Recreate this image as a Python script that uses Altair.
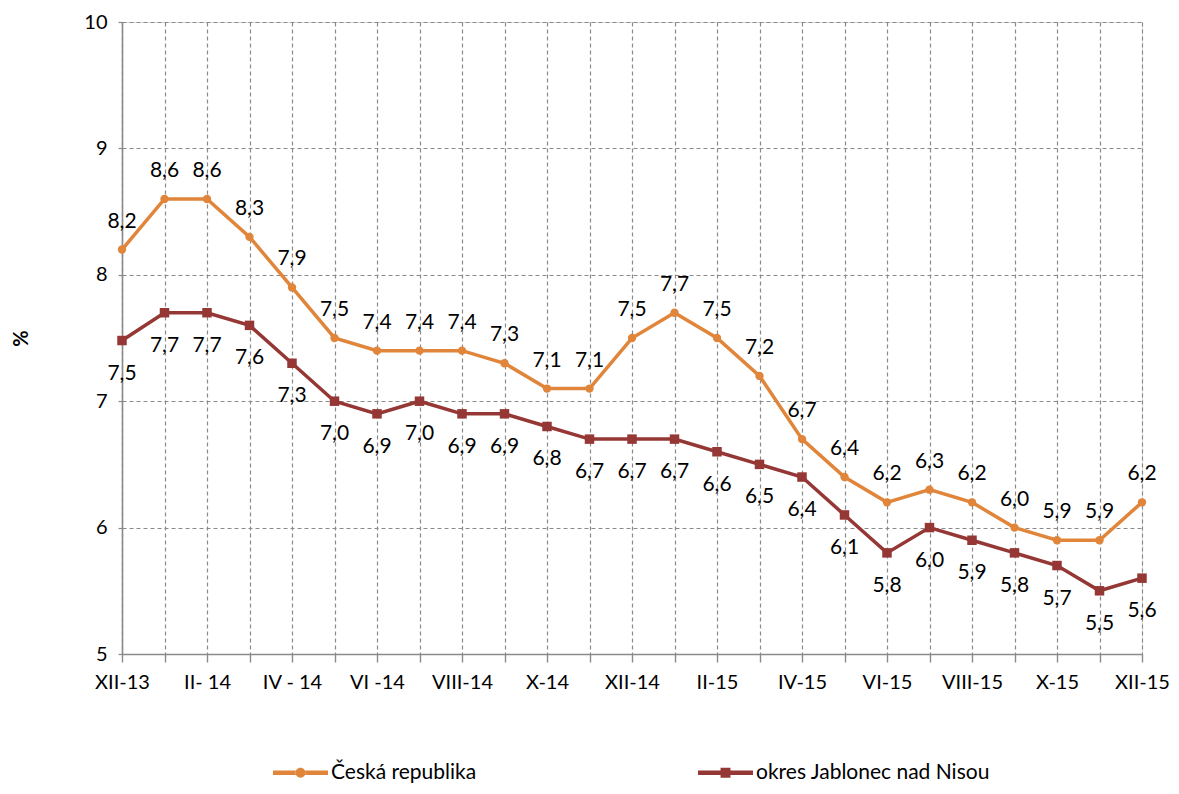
import altair as alt
import pandas as pd

months = ["XII-13", "I-14", "II- 14", "III-14", "IV - 14", "V-14", "VI -14", "VII-14",
          "VIII-14", "IX-14", "X-14", "XI-14", "XII-14", "I-15", "II-15", "III-15",
          "IV-15", "V-15", "VI-15", "VII-15", "VIII-15", "IX-15", "X-15", "XI-15", "XII-15"]
cz = [8.2, 8.6, 8.6, 8.3, 7.9, 7.5, 7.4, 7.4, 7.4, 7.3, 7.1, 7.1, 7.5, 7.7, 7.5, 7.2,
      6.7, 6.4, 6.2, 6.3, 6.2, 6.0, 5.9, 5.9, 6.2]
jab = [7.48, 7.7, 7.7, 7.6, 7.3, 7.0, 6.9, 7.0, 6.9, 6.9, 6.8, 6.7, 6.7, 6.7, 6.6, 6.5,
       6.4, 6.1, 5.8, 6.0, 5.9, 5.8, 5.7, 5.5, 5.6]
series_names = ["Česká republika", "okres Jablonec nad Nisou"]
colors = ["#E0853A", "#953735"]

rows = []
for s, vals in zip(series_names, [cz, jab]):
    for i, v in enumerate(vals):
        rows.append({"idx": i, "month": months[i], "series": s, "value": v,
                     "label": f"{v:.1f}".replace(".", ",")})
df = pd.DataFrame(rows)

shown = [m if i % 2 == 0 else "" for i, m in enumerate(months)]
label_expr = "[" + ",".join("'" + m + "'" for m in shown) + "][datum.value]"

FONT = "Lato"
GRID = "#8a8a8a"

x = alt.X("idx:Q", scale=alt.Scale(domain=[0, len(months) - 1], nice=False, zero=False),
          axis=alt.Axis(values=list(range(len(months))), labelExpr=label_expr, title=None,
                        grid=True, gridDash=[4, 3], gridColor=GRID, gridWidth=1.2,
                        domainColor=GRID, domainWidth=1.6, tickColor=GRID, tickWidth=1.4,
                        tickSize=8, labelFontSize=20, labelPadding=10, labelColor="black",
                        labelFont=FONT, labelFlush=False, labelOverlap=False))
y = alt.Y("value:Q", scale=alt.Scale(domain=[5, 10], nice=False, zero=False),
          axis=alt.Axis(values=[5, 6, 7, 8, 9, 10], title="%", titleFontWeight="bold",
                        titleFontSize=20, titleFont=FONT, titleColor="black", titlePadding=52,
                        grid=True, gridDash=[4, 3], gridColor=GRID, gridWidth=1.2,
                        domainColor=GRID, domainWidth=1.6, tickColor=GRID, tickWidth=1.2,
                        tickDash=[4, 3], tickSize=7, labelFontSize=20, labelPadding=8,
                        labelColor="black", labelFont=FONT, labelFlush=False))

base = alt.Chart(df)

line = base.mark_line(strokeWidth=3.5).encode(
    x=x, y=y,
    color=alt.Color("series:N", scale=alt.Scale(domain=series_names, range=colors), legend=None),
    detail="series:N",
)

pts = base.mark_point(filled=True, opacity=1).encode(
    x=x, y=y,
    color=alt.Color("series:N", scale=alt.Scale(domain=series_names, range=colors), legend=None),
    shape=alt.Shape("series:N", scale=alt.Scale(domain=series_names, range=["circle", "square"]),
                    legend=None),
    size=alt.Size("series:N", scale=alt.Scale(domain=series_names, range=[70, 90]), legend=None),
)

txt_cz = base.transform_filter(alt.datum.series == series_names[0]).mark_text(
    dy=-28, fontSize=21, font=FONT, color="black").encode(x=x, y=y, text="label:N")
txt_jab = base.transform_filter(alt.datum.series == series_names[1]).mark_text(
    dy=33, fontSize=21, font=FONT, color="black").encode(x=x, y=y, text="label:N")

circ = "M-0.18,0A0.18,0.18 0 1,0 0.18,0A0.18,0.18 0 1,0 -0.18,0Z"
sq = "M-0.18,-0.18H0.18V0.18H-0.18Z"
seg = "M-1,-0.085H-0.17V0.085H-1Z M0.17,-0.085H1V0.085H0.17Z "
legend_opts = dict(title=None, orient="none", legendX=151, legendY=723,
                   direction="horizontal", columns=2, columnPadding=221,
                   symbolSize=3025, symbolStrokeWidth=0, symbolOpacity=1,
                   labelFontSize=21, labelFont=FONT, labelColor="black",
                   labelOffset=3, labelLimit=400)
leg = base.transform_filter("false").mark_point(filled=True).encode(
    x=x, y=y,
    color=alt.Color("series:N", scale=alt.Scale(domain=series_names, range=colors),
                    legend=alt.Legend(**legend_opts)),
    shape=alt.Shape("series:N", scale=alt.Scale(domain=series_names, range=[seg + circ, seg + sq]),
                    legend=alt.Legend(**legend_opts)),
)

chart = alt.layer(line, pts, txt_cz, txt_jab, leg).resolve_scale(
    color="independent", shape="independent", size="independent"
).properties(
    width=1020, height=632,
    autosize=alt.AutoSizeParams(type="none"),
    padding={"left": 114, "top": 14, "right": 29, "bottom": 132},
).configure_view(stroke=None).configure(background="white")

chart.save("out.html", embed_options={"renderer": "svg", "actions": False})
